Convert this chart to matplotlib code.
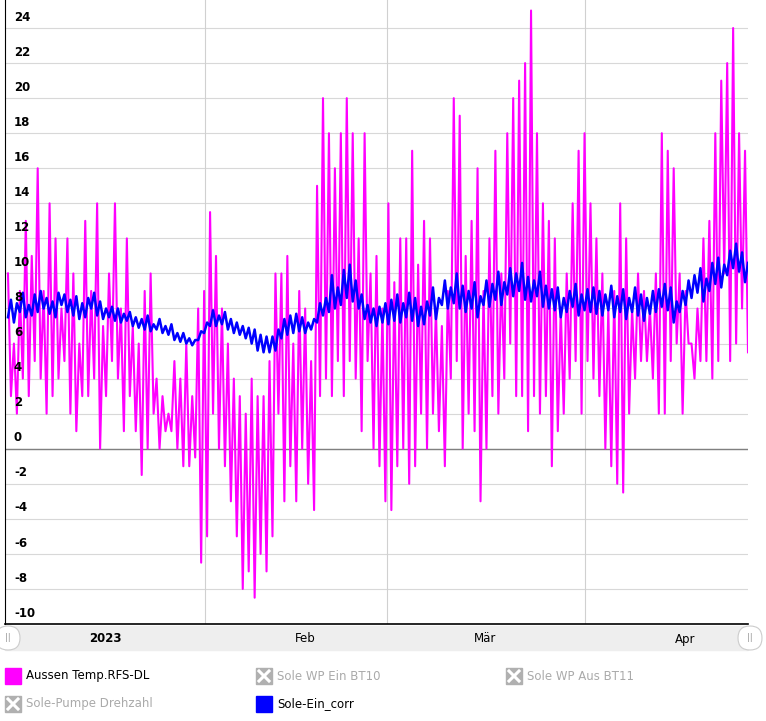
import numpy as np
import matplotlib.pyplot as plt
from matplotlib.patches import Rectangle, FancyBboxPatch

# Aussen Temp: daily highs / lows
temp_hi = [10, 6, 9, 13, 11, 16, 9, 14, 12, 8, 12,
           10, 6, 13, 9, 14, 7, 10, 14, 8, 12,
           7, 6, 9, 10, 4, 3, 2, 5, 4, 6, 3,
           8, 9,
           13.5,
           11, 8, 6, 4, 3, 2, 4, 3, 3, 5, 10,
           10, 11, 6, 9, 8, 5, 15,
           20, 18, 16, 18, 20, 18, 12, 18, 10, 11, 8,
           14, 9.5, 12, 12, 17, 10.5, 13, 12, 8, 7, 9,
           20, 19, 11, 13, 16, 9, 12, 17, 10, 18, 20,
           21, 22, 25, 18, 14, 13, 12, 8, 10, 14, 17, 18,
           14, 12, 10, 8, 9, 14, 12, 8, 10, 9, 8, 10, 18,
           17, 16, 10, 9, 6, 8, 12,
           13, 18, 21, 22, 24, 18, 17]
temp_lo = [3, 2, 4, 3, 5, 4, 2, 3, 4, 5, 2,
           1, 3, 3, 4, 0, 3, 5, 4, 1, 3,
           1, -1.5, 0, 2, 0, 1, 1, 0, -1, -1, -0.5,
           -6.5, -5,
           2,
           0, -1, -3, -5, -8, -7, -8.5, -6, -7, -5, 2,
           -3, -1, -3, 0, -2, -3.5, 3,
           4, 3, 5, 3, 5, 4, 1, 5, 0, -1, -3,
           -3.5, -1, 0, -2, -1, 2, 0, 2, 1, -1, 4,
           5, 0, 2, 1, -3, 0, 3, 2, 4, 6, 3,
           3, 1, 3, 2, 3, -1, 1, 2, 4, 5, 2, 5,
           4, 3, 0, -1, -2, -2.5, 2, 4, 5, 5, 4, 2, 2,
           5, 6, 2, 6, 4, 5, 5,
           4, 5, 10, 5, 6, 8, 5.5]

# Sole-Ein_corr: daily base level and daily peak
sole_base = [7.5, 7.2, 7.8, 7.5, 7.6, 7.8, 8, 7.7, 7.5, 8.2, 7.8, 7.6, 7.4, 7.5, 8, 7.6, 7.4,
             7.5, 7.3, 7.2, 7.3, 7, 6.9, 6.8, 6.7, 6.8, 6.6, 6.5, 6.2, 6.1, 6, 5.9, 6.2, 6.6,
             7, 7, 7.1, 6.8, 6.6, 6.5, 6.3, 6, 5.6, 5.5, 5.5, 5.6,
             6.3, 6.5, 6.6, 6.7, 6.6, 6.8, 7.2, 7.6, 7.8, 8, 8.2, 8.6, 8.4, 8, 7.4, 7.2, 7, 7.2,
             7.1, 7.3, 7.2, 7.5, 7.3, 7.0, 7.1, 7.6, 7.4, 8.2, 8.0, 8.3, 8.0, 7.8, 8.0, 7.5, 8.2,
             8.1, 8.5, 8.2, 8.8, 8.7, 9.0, 8.5, 8.4, 8.7, 8.1, 8.0, 7.9, 7.5, 7.8, 8.1, 7.6, 7.9,
             7.8, 7.7, 7.6, 7.9, 7.5, 7.8, 7.4, 7.8, 7.6, 7.3, 7.7, 7.8, 8.1, 7.9, 7.2, 7.8, 8.2,
             8.6, 8.9, 8.4, 9.0, 9.4, 9.2, 9.9, 10.3, 10.1, 9.5]
sole_peak = [8.5, 8.3, 8.9, 8.2, 8.8, 9.0, 8.6, 8.4, 8.9, 8.8, 8.5, 8.7, 8.3, 8.6, 8.9, 8.4, 8.0,
             8.1, 8.0, 7.7, 7.8, 7.5, 7.4, 7.6, 7.1, 7.4, 7.0, 7.1, 6.6, 6.6, 6.3, 6.2, 6.7, 7.2,
             7.9, 7.6, 7.8, 7.4, 7.2, 7.0, 6.9, 6.8, 6.5, 6.4, 6.4, 6.8,
             7.4, 7.6, 7.7, 7.5, 7.2, 7.4, 8.3, 8.6, 9.9, 9.2, 10.2, 10.5, 9.6, 8.8, 8.2, 8.0, 8.1, 8.3,
             8.5, 8.8, 8.3, 8.9, 8.6, 8.1, 8.4, 9.2, 8.6, 9.6, 9.2, 10.0, 9.3, 9.0, 9.5, 8.7, 9.6,
             9.4, 10.1, 9.5, 10.3, 10.0, 10.6, 9.8, 9.6, 10.1, 9.3, 9.1, 9.2, 8.6, 9.0, 9.4, 8.8, 9.1,
             9.2, 9.0, 8.8, 9.3, 8.7, 9.1, 8.6, 9.2, 8.8, 8.6, 9.0, 9.1, 9.4, 9.2, 8.4, 9.0, 9.6,
             9.9, 10.3, 9.7, 10.6, 10.9, 10.5, 11.3, 11.7, 11.2, 10.6]

# month gridlines as fractions of the visible span, with navigator labels
grid_frac = [0.269, 0.514, 0.781]
nav_labels = ['2023', 'Feb', 'Mär', 'Apr']
nav_label_x = [105, 305, 485, 685]

n = len(temp_hi)
t = np.arange(2 * n) / 2.0
temp = np.empty(2 * n)
temp[0::2] = temp_hi
temp[1::2] = temp_lo
sole = np.empty(2 * n)
sole[0::2] = sole_base
sole[1::2] = sole_peak

W, H = 766, 721
fig = plt.figure(figsize=(W / 100, H / 100), dpi=100)
ax = fig.add_axes([5 / W, (H - 624) / H, 743 / W, 624 / H])

x0, x1 = -0.5, n - 0.5
ax.set_xlim(x0, x1)
ax.set_ylim(-10, 25.6)

for y in range(-10, 26, 2):
    ax.axhline(y, color='#d8d8d8', lw=0.8, zorder=0)
ax.axhline(0, color='#808080', lw=1.0, zorder=0.5)
for f in grid_frac:
    ax.axvline(x0 + f * (x1 - x0), color='#d0d0d0', lw=0.8, zorder=0)

ax.plot(t, temp, color='#ff00ff', lw=1.5, zorder=2)
ax.plot(t, sole, color='#0000ff', lw=1.8, zorder=3)

for y in range(-10, 26, 2):
    ax.text(0.012, y + 0.25, str(y), transform=ax.get_yaxis_transform(),
            fontsize=8.5, fontweight='bold', ha='left', va='bottom', color='black')

ax.set_xticks([])
ax.set_yticks([])
for side in ['top', 'right']:
    ax.spines[side].set_visible(False)
ax.spines['left'].set_color('black')
ax.spines['bottom'].set_color('black')
ax.spines['bottom'].set_linewidth(1.2)

# navigator band and legend
ov = fig.add_axes([0, 0, 1, 1], zorder=5)
ov.set_xlim(0, W)
ov.set_ylim(H, 0)
ov.axis('off')
ov.add_patch(Rectangle((5, 626), 743, 24, color='#eeeeee', zorder=1))
for lx, lab in zip(nav_label_x, nav_labels):
    ov.text(lx, 639, lab, ha='center', va='center', fontsize=8.5,
            fontweight='bold' if lab == '2023' else 'normal')
for cx in [8, 750]:
    ov.add_patch(FancyBboxPatch((cx - 12, 626), 24, 24, boxstyle='round,pad=0,rounding_size=12',
                                fc='white', ec='#cccccc', lw=0.8, zorder=2))
    ov.text(cx, 638, '||', ha='center', va='center', fontsize=6, color='#999999', zorder=3)

legend = [(5, 676, 'Aussen Temp.RFS-DL', '#ff00ff', True),
          (256, 676, 'Sole WP Ein BT10', None, False),
          (506, 676, 'Sole WP Aus BT11', None, False),
          (5, 704, 'Sole-Pumpe Drehzahl', None, False),
          (256, 704, 'Sole-Ein_corr', '#0000ff', True)]
for lx, ly, lab, col, on in legend:
    if on:
        ov.add_patch(Rectangle((lx, ly - 8), 16, 16, color=col))
        ov.text(lx + 21, ly, lab, va='center', fontsize=8.5, color='black')
    else:
        ov.add_patch(Rectangle((lx, ly - 8), 16, 16, color='#b0b0b0'))
        ov.plot([lx + 3, lx + 13], [ly - 5, ly + 5], color='white', lw=2.2)
        ov.plot([lx + 3, lx + 13], [ly + 5, ly - 5], color='white', lw=2.2)
        ov.text(lx + 21, ly, lab, va='center', fontsize=8.5, color='#aaaaaa')

fig.savefig('out.png', dpi=100)
